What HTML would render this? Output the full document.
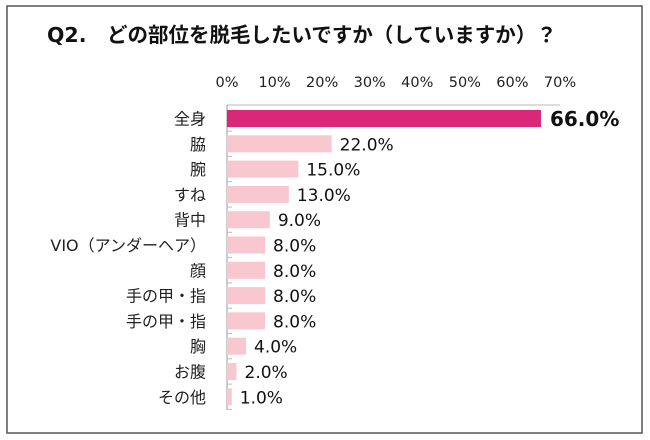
<!DOCTYPE html>
<html><head><meta charset="utf-8"><style>
body{margin:0;background:#fff;}
svg{display:block;font-family:"DejaVu Sans","Noto Sans CJK JP",sans-serif;}
</style></head><body>
<svg id="chart" width="650" height="440">
<rect x="7" y="6" width="635" height="427" fill="#fff" stroke="#555" stroke-width="1.5"/>
<text x="47" y="42" font-size="20.5" font-weight="bold" fill="#111">Q2.　どの部位を脱毛したいですか（していますか）？</text>
<g id="axis"></g><g id="bars"></g>
</svg>
<script>
const categories=["全身","脇","腕","すね","背中","VIO（アンダーヘア）","顔","手の甲・指","手の甲・指","胸","お腹","その他"];
const values=[66.0,22.0,15.0,13.0,9.0,8.0,8.0,8.0,8.0,4.0,2.0,1.0];
const ticks=[0,10,20,30,40,50,60,70];
const tickLabels=["0%","10%","20%","30%","40%","50%","60%","70%"];
const NS="http://www.w3.org/2000/svg";
const x=v=>227+v*(333/70);
const y=i=>118.5+i*25.3;
function mk(t,a,p){const e=document.createElementNS(NS,t);for(const k in a)e.setAttribute(k,a[k]);p.appendChild(e);return e;}
const ax=document.getElementById('axis'),bg=document.getElementById('bars');
ticks.forEach((t,i)=>{const e=mk('text',{x:x(t),y:87,'font-size':14.5,'text-anchor':'middle',fill:'#222'},ax);e.textContent=tickLabels[i];

});
const l1=mk('line',{x1:227,y1:105,x2:x(70),y2:105,stroke:'#bbb','stroke-width':1},ax);


const l2=mk('line',{x1:227,y1:105,x2:227,y2:410,stroke:'#999','stroke-width':1},ax);


categories.forEach((c,i)=>{
const tk=mk('line',{x1:227,y1:y(i)+12.6,x2:232,y2:y(i)+12.6,stroke:'#bbb'},ax);


const lb=mk('text',{x:206,y:y(i)+6,'font-size':16,'text-anchor':'end',fill:'#222'},ax);lb.textContent=c;


const r=mk('rect',{x:227,y:y(i)-8.5,width:x(values[i])-227,height:17,fill:i===0?'#d9287a':'#f9c7cf'},bg);


const v=mk('text',{x:x(values[i])+(i===0?9:8),y:y(i)+(i===0?7.5:6.5),'font-size':i===0?20:17,'font-weight':i===0?'bold':'normal',fill:'#111'},bg);
v.textContent=values[i].toFixed(1)+'%';


});
</script>
</body></html>
